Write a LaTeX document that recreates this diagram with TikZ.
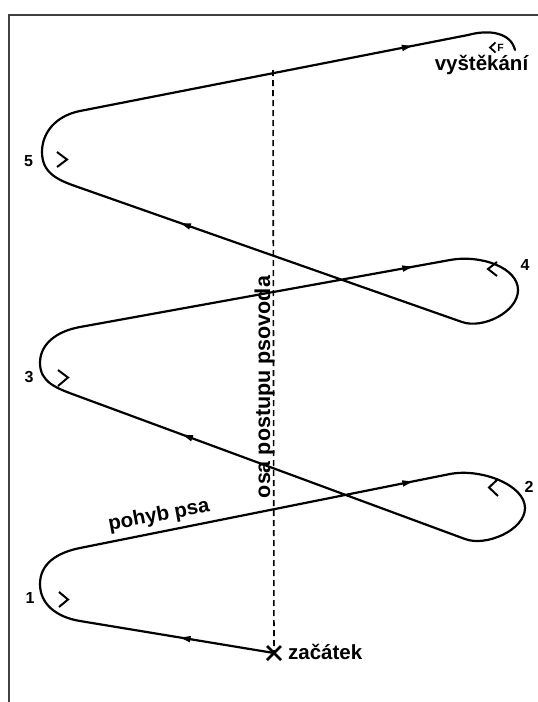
\documentclass[tikz,border=0pt]{standalone}
\usepackage{fontspec}
\setmainfont{Liberation Sans}
\usetikzlibrary{shapes.geometric}
\begin{document}
\begin{tikzpicture}[x=1pt,y=-1pt,
  dogpath/.style={line width=2.2pt, line join=round, line cap=round},
  tipmark/.style={isosceles triangle, isosceles triangle stretches, fill=black, draw=none,
     inner sep=0pt, minimum height=10pt, minimum width=6.5pt, sloped, allow upside down, anchor=center},
  chev/.style={line width=2pt, line join=miter},
  axisline/.style={line width=1.6pt, dash pattern=on 6pt off 4pt},
  framel/.style={line width=1.3pt, draw=black!75},
  numlab/.style={inner sep=0pt, font=\fontsize{16}{16}\selectfont\bfseries},
  boldlab/.style={inner sep=0pt, font=\fontsize{20.5}{20.5}\selectfont\bfseries},
]
\fill[white] (0,0) rectangle (538,702);
\useasboundingbox (0,0) rectangle (538,702);
% frame
\draw[framel] (9,702) -- (9,15) -- (538,15);
% named points of the dog's path
\coordinate (S) at (274,653);
\coordinate (B1) at (80,621);
\coordinate (L1) at (40,584);
\coordinate (T1) at (80,548);
\coordinate (T2) at (450,474);
\coordinate (R2) at (525,508);
\coordinate (B2) at (465,539);
\coordinate (B3) at (75,395);
\coordinate (L3) at (40,363);
\coordinate (T3) at (80,327);
\coordinate (T4) at (450,260);
\coordinate (R4) at (518,290);
\coordinate (B4) at (462,322);
\coordinate (B5) at (75,186);
\coordinate (L5) at (42,152);
\coordinate (T5) at (80,111);
\coordinate (E1) at (468,35);
\coordinate (E2) at (515,50);
\coordinate (A0) at (273,70);
% axis of the handler
\draw[axisline] (A0) -- (S);
% dog path
\draw[dogpath] (S) -- node[tipmark, pos=.443]{} (B1)
  .. controls (56.3,617.1) and (40,604) .. (L1)
  .. controls (40,564) and (56.5,552.7) .. (T1)
  -- node[tipmark, pos=.878]{} (T2)
  .. controls (481,468) and (525,485) .. (R2)
  .. controls (525,530) and (486,547) .. (B2)
  -- node[tipmark, pos=.705]{} (B3)
  .. controls (56.2,388.1) and (40,382) .. (L3)
  .. controls (40,344) and (56.4,331.3) .. (T3)
  -- node[tipmark, pos=.878]{} (T4)
  .. controls (481.5,254.3) and (518,268) .. (R4)
  .. controls (518,312) and (482.8,329.3) .. (B4)
  -- node[tipmark, pos=.708]{} (B5)
  .. controls (56.1,179.4) and (42,172) .. (L5)
  .. controls (42,132) and (56.5,115.6) .. (T5)
  -- node[tipmark, pos=.836]{} (E1)
  .. controls (490,29) and (511,33) .. (E2);
% start cross
\draw[line width=2.6pt] (267,646) -- (281,660) (281,646) -- (267,660);
% chevrons
\draw[chev] (57,152) -- (67,159.5) -- (57,167);
\draw[chev] (58,370) -- (68,377.5) -- (58,386);
\draw[chev] (59,592) -- (68,599.5) -- (59,607);
\draw[chev] (497,262) -- (488,269) -- (497,276);
\draw[chev] (498,479) -- (489,487.5) -- (498,496);
\draw[line width=1.8pt] (495.5,42.5) -- (490,47.5) -- (495.5,52.5);
\node[inner sep=0pt, font=\fontsize{10.5}{10.5}\selectfont\bfseries] (fmark) at (500.5,47.5) {F};
% labels
\node[numlab] (n5) at (28.5,161) {5};
\node[numlab] (n3) at (29,377) {3};
\node[numlab] (n1) at (30,597.5) {1};
\node[numlab] (n4) at (525,264.5) {4};
\node[numlab] (n2) at (529,487) {2};
\node[boldlab, anchor=base] (vys) at (481.5,70) {vyštěkání};
\node[boldlab, anchor=base west] (zac) at (288,659) {začátek};
\node[boldlab, anchor=base, rotate=10.5] (poh) at (160,521) {pohyb psa};
\node[inner sep=0pt, anchor=base, rotate=90, font=\fontsize{21.5}{21.5}\selectfont\bfseries] (osa) at (270,387) {osa postupu psovoda};
\end{tikzpicture}
\end{document}
